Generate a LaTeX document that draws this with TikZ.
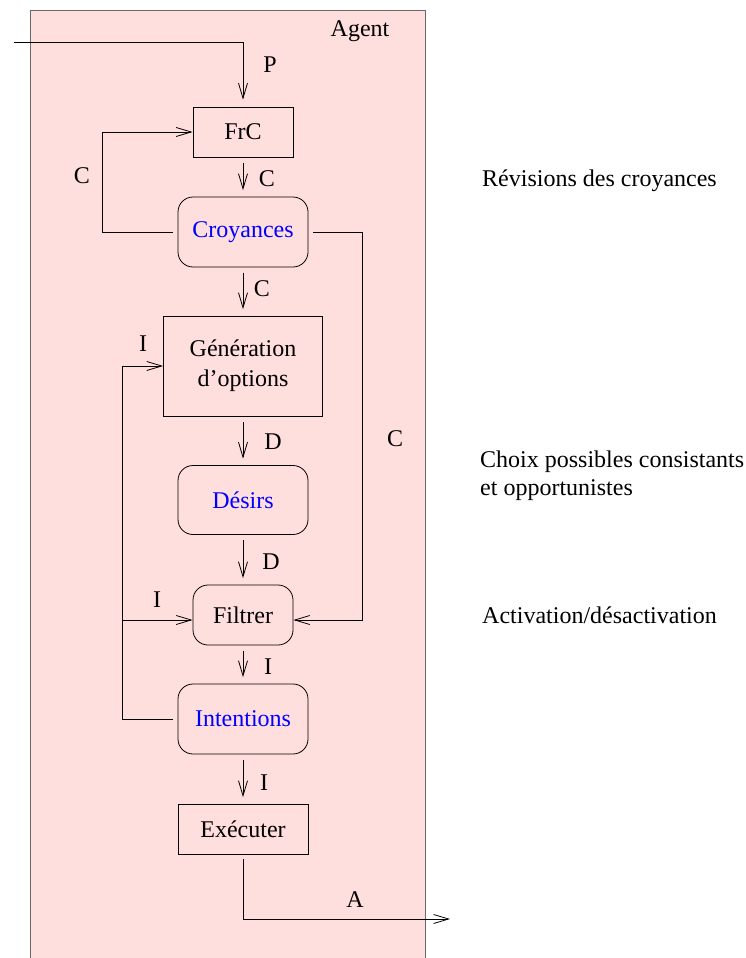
\documentclass[tikz,border=0pt]{standalone}
\usepackage{fontspec}
\setmainfont{Liberation Serif}
\usetikzlibrary{arrows.meta}
\definecolor{agentpink}{RGB}{255,222,222}
\definecolor{agentgray}{RGB}{105,105,105}

\tikzset{
	box/.style={draw, line width=0.8pt, inner sep=0pt, align=center},
	rbox/.style={box, rounded corners=15pt},
	lbl/.style={anchor=base, inner sep=0pt},
	flow/.style={-{Straight Barb[length=15pt,width=9pt]}, line width=0.8pt},
	vflow/.style={flow, shorten <=5.5pt, shorten >=6.5pt}
}

\begin{document}
\begin{tikzpicture}[x=1pt,y=-1pt,every node/.style={font=\fontsize{24}{30}\selectfont}]
		\useasboundingbox (0,0) rectangle (746,958);
		\fill [agentpink] (30,10) rectangle (425,962);
		\draw [agentgray, line width=0.8pt] (30,962) -- (30,10) -- (425,10) -- (425,962);
		\node [lbl] (agent) at (360,37) {Agent};
		%
		\node [box, minimum width=100, minimum height=50] (frc) at (243,132) {FrC};
		\node [rbox, minimum width=130, minimum height=70, text=blue] (croy) at (243,232) {Croyances};
		\node [box, minimum width=159, minimum height=100] (gen) at (243,366) {Génération\\d’options};
		\node [rbox, minimum width=130, minimum height=69, text=blue] (des) at (243,500) {Désirs};
		\node [rbox, minimum width=100, minimum height=60] (filt) at (243,615) {Filtrer};
		\node [rbox, minimum width=130, minimum height=70, text=blue] (int) at (243,719) {Intentions};
		\node [box, minimum width=130, minimum height=50] (exec) at (243,829) {Exécuter};
		%
		\coordinate (in) at (14,42);
		\coordinate (out) at (450,919);
		\coordinate (fwin) at ([yshift=-5pt]filt.west);
		\coordinate (fein) at ([yshift=-5pt]filt.east);
		\draw [flow, shorten >=7pt] (in) -| (frc.north);
		\draw [vflow] (frc) -- (croy);
		\draw [vflow] (croy) -- (gen);
		\draw [vflow] (gen) -- (des);
		\draw [vflow] (des) -- (filt);
		\draw [vflow] (filt) -- (int);
		\draw [vflow] (int) -- (exec);
		\draw [flow, shorten <=5pt] (croy.west) -- ++(-75,0) |- (frc.west);
		\draw [flow, shorten <=5pt] (croy.east) -- ++(54,0) |- (fein);
		\draw [flow, shorten <=5pt] (int.west) -- ++(-55,0) coordinate (iloop) |- (gen.west);
		\draw [flow] (iloop |- fwin) -- (fwin);
		\draw [flow, shorten <=5pt] (exec.south) |- (out);
		%
		\node [lbl] (lp) at (270,73) {P};
		\node [lbl] (lc1) at (82,183) {C};
		\node [lbl] (lc2) at (267,186) {C};
		\node [lbl] (lc3) at (262,296) {C};
		\node [lbl] (lc4) at (395,446) {C};
		\node [lbl] (li1) at (143,351) {I};
		\node [lbl] (ld1) at (273,449) {D};
		\node [lbl] (ld2) at (271,569) {D};
		\node [lbl] (li2) at (157,607) {I};
		\node [lbl] (li3) at (268,674) {I};
		\node [lbl] (li4) at (264,790) {I};
		\node [lbl] (la) at (355,907) {A};
		%
		\node [lbl, anchor=base west] (rev) at (482,186) {Révisions des croyances};
		\node [lbl, anchor=base west] (choix) at (480,467) {Choix possibles consistants};
		\node [lbl, anchor=base west] (opp) at (480,495) {et opportunistes};
		\node [lbl, anchor=base west] (act) at (482,623) {Activation/désactivation};
	\end{tikzpicture}
\end{document}
